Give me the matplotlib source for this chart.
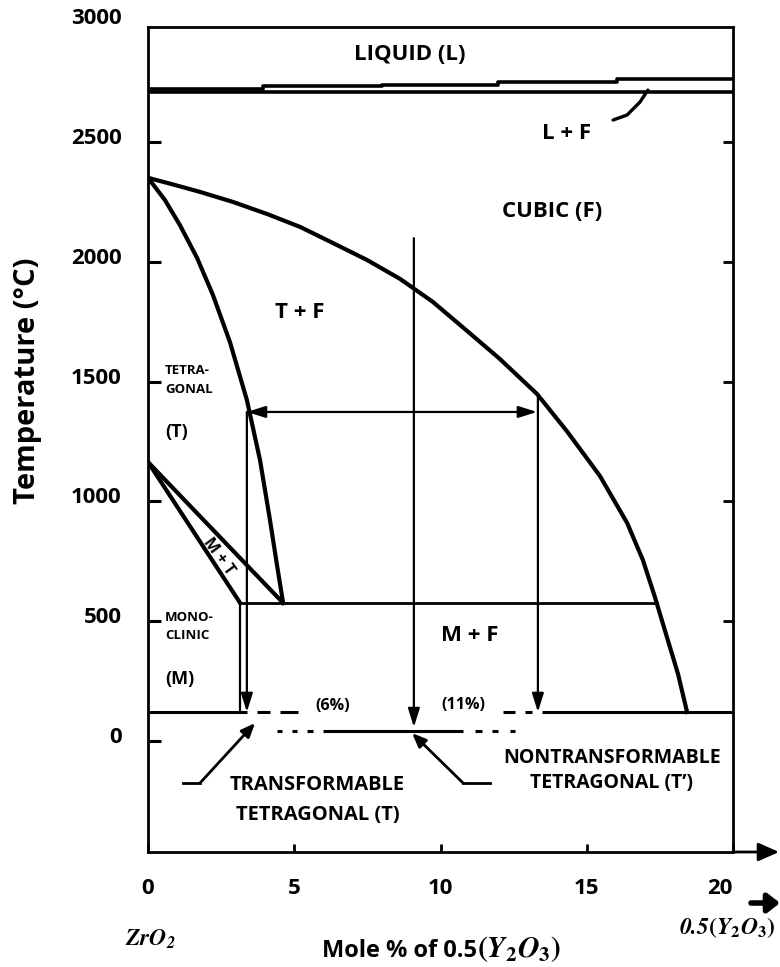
import matplotlib
matplotlib.use("Agg")
import matplotlib.pyplot as plt
from matplotlib.patches import FancyArrowPatch
from matplotlib.transforms import ScaledTranslation

plt.rcParams['font.family'] = ['Open Sans', 'DejaVu Sans']
plt.rcParams['font.weight'] = 'bold'
plt.rcParams['mathtext.fontset'] = 'stix'

# ---- axis ticks ----
x_ticks = [0, 5, 10, 15, 20]
x_tick_labels = ['0', '5', '10', '15', '20']
y_ticks = [0, 500, 1000, 1500, 2000, 2500, 3000]
y_tick_labels = ['0', '500', '1000', '1500', '2000', '2500', '3000']
y_ticks_right = [500, 1000, 1500, 2000, 2500]

# ---- phase boundaries (mol % 0.5 Y2O3, deg C) ----
# cubic (F) solvus
cubic_x = [0, 0.92, 1.78, 2.91, 4.07, 5.20, 6.32, 7.49, 8.62, 9.74, 10.91,
           12.03, 13.30, 14.32, 15.45, 16.38, 16.92, 17.33, 17.74, 18.12, 18.43]
cubic_y = [2350, 2320, 2291, 2249, 2199, 2145, 2078, 2007, 1928, 1832, 1711,
           1594, 1448, 1293, 1106, 910, 755, 601, 434, 280, 121]
# tetragonal / T + F boundary
tet_x = [0, 0.58, 1.09, 1.68, 2.22, 2.80, 3.38, 3.83, 4.17, 4.41, 4.62]
tet_y = [2350, 2257, 2153, 2015, 1861, 1665, 1423, 1172, 922, 734, 576]
# M + T lens
mt_upper_x = [0, 4.62]
mt_upper_y = [1164, 576]
mt_lower_x = [0, 3.15]
mt_lower_y = [1164, 576]
# eutectoid isotherm
eutectoid_T = 576
eutectoid_x = [3.15, 17.39]
# liquidus / solidus
solidus_T = 2708
liquidus_x = [0, 3.93, 8.0, 11.96, 16.03, 20]
liquidus_y = [2722, 2731, 2737, 2749, 2762, 2762]

# ---- low-temperature limits ----
rt_upper_T = 121
rt_upper_segments = [(0, 3.38), (3.73, 4.17), (4.51, 5.13),
                     (12.14, 12.55), (12.89, 13.13), (13.47, 20)]
rt_lower_T = 42
rt_lower_segments = [(4.41, 4.58), (4.92, 5.09), (5.44, 5.64), (5.98, 10.77),
                     (11.18, 11.42), (11.76, 11.97), (12.38, 12.55)]

# ---- cooling paths and tie line ----
path_6_x = 3.15
path_6_top = 576
path_6_bottom = 121
tie_T = 1373
tie_x = [3.38, 13.3]
drop_left_x = 3.38
drop_left_y = [1373, 121]
drop_mid_x = 9.09
drop_mid_y = [2098, 58]
drop_right_x = 13.33
drop_right_y = [1448, 121]

# ---- leader lines ----
leader_t_x = [1.2, 1.78, 3.66]
leader_t_y = [-175, -175, 75]
leader_tp_x = [11.69, 10.77, 9.03]
leader_tp_y = [-175, -175, 33]
leader_lf_x = [15.9, 16.38, 16.82, 17.09]
leader_lf_y = [2591, 2612, 2666, 2716]

fig = plt.figure(figsize=(7.8, 9.67), dpi=100)
W, H = 780, 967
ax = fig.add_axes([148 / W, 1 - 852 / H, 585 / W, (852 - 22) / H])
ax.set_xlim(0, 20)
ax.set_ylim(-463, 3000)

# frame
for s in ax.spines.values():
    s.set_linewidth(2.0)
ax.spines['top'].set_position(('data', 2980))
ax.spines['left'].set_bounds(-463, 2980)
ax.spines['right'].set_bounds(-463, 2980)

ax.set_xticks(x_ticks)
ax.set_xticklabels(x_tick_labels)
ax.set_yticks(y_ticks)
ax.set_yticklabels(y_tick_labels)
ax.tick_params(axis='y', direction='in', length=9, width=2.2, labelsize=16, pad=19)
ax.tick_params(axis='x', direction='in', length=6, width=2.0, labelsize=16, pad=19)
ax.yaxis.get_major_ticks()[-1].tick1line.set_visible(False)
off = ScaledTranslation(0, 6 / 100, fig.dpi_scale_trans)
for lab in ax.get_yticklabels():
    lab.set_transform(lab.get_transform() + off)
last_x = ax.get_xticklabels()[-1]
last_x.set_transform(last_x.get_transform() + ScaledTranslation(-13 / 100, 0, fig.dpi_scale_trans))

sec = ax.secondary_yaxis('right')
sec.set_yticks(y_ticks_right)
sec.tick_params(direction='in', length=7, width=2.0, labelright=False)
sec.spines['right'].set_visible(False)

# x axis arrow beyond the frame
ax.annotate('', xy=(779 / W, 1 - 852 / H), xycoords='figure fraction',
            xytext=(733 / W, 1 - 852 / H), textcoords='figure fraction',
            arrowprops=dict(arrowstyle='-|>,head_length=0.9,head_width=0.4',
                            lw=2.0, color='black', mutation_scale=14,
                            shrinkA=0, shrinkB=0))

k = 'black'
# liquidus / solidus
ax.plot([0, 20], [solidus_T, solidus_T], color=k, lw=2.6, solid_capstyle='butt')
ax.plot(liquidus_x, liquidus_y, color=k, lw=2.6, drawstyle='steps-post')

# phase boundaries
ax.plot(cubic_x, cubic_y, color=k, lw=3.0, solid_joinstyle='round')
ax.plot(tet_x, tet_y, color=k, lw=3.0, solid_joinstyle='round')
ax.plot(mt_upper_x, mt_upper_y, color=k, lw=3.0)
ax.plot(mt_lower_x, mt_lower_y, color=k, lw=3.0)
ax.plot(eutectoid_x, [eutectoid_T, eutectoid_T], color=k, lw=2.0)

for a, b in rt_upper_segments:
    ax.plot([a, b], [rt_upper_T, rt_upper_T], color=k, lw=2.2, solid_capstyle='butt')
for a, b in rt_lower_segments:
    ax.plot([a, b], [rt_lower_T, rt_lower_T], color=k, lw=2.2, solid_capstyle='butt')

ax.plot([path_6_x, path_6_x], [path_6_top, path_6_bottom], color=k, lw=1.6)

arrow_kw = dict(arrowstyle='-|>,head_length=0.7,head_width=0.22', lw=1.6,
                color=k, mutation_scale=16, shrinkA=0, shrinkB=0)
ax.annotate('', xy=(drop_left_x, drop_left_y[1]), xytext=(drop_left_x, drop_left_y[0]),
            arrowprops=arrow_kw)
ax.annotate('', xy=(drop_mid_x, drop_mid_y[1]), xytext=(drop_mid_x, drop_mid_y[0]),
            arrowprops=arrow_kw)
ax.annotate('', xy=(drop_right_x, drop_right_y[1]), xytext=(drop_right_x, drop_right_y[0]),
            arrowprops=arrow_kw)
ax.annotate('', xy=(tie_x[1], tie_T), xytext=(tie_x[0], tie_T),
            arrowprops=dict(arrowstyle='<|-|>,head_length=0.7,head_width=0.22',
                            lw=1.6, color=k, mutation_scale=16, shrinkA=0, shrinkB=0))

# leader lines
lead_kw = dict(arrowstyle='-|>,head_length=0.6,head_width=0.25', lw=2.0,
               color=k, mutation_scale=14, shrinkA=0, shrinkB=0)
ax.plot(leader_t_x[:2], leader_t_y[:2], color=k, lw=2.0)
ax.annotate('', xy=(leader_t_x[2], leader_t_y[2]), xytext=(leader_t_x[1], leader_t_y[1]),
            arrowprops=lead_kw)
ax.plot(leader_tp_x[:2], leader_tp_y[:2], color=k, lw=2.0)
ax.annotate('', xy=(leader_tp_x[2], leader_tp_y[2]), xytext=(leader_tp_x[1], leader_tp_y[1]),
            arrowprops=lead_kw)
ax.plot(leader_lf_x, leader_lf_y, color=k, lw=2.4, solid_capstyle='round')

# region labels
big = dict(fontsize=16, fontweight='bold', ha='center', va='center')
ax.text(8.96, 2866, 'LIQUID (L)', **big)
ax.text(14.32, 2536, 'L + F', **big)
ax.text(13.81, 2211, 'CUBIC (F)', **big)
ax.text(5.2, 1790, 'T + F', **big)
ax.text(11.01, 442, 'M + F', **big)

small = dict(fontsize=9.5, fontweight='bold', ha='left', va='center')
ax.text(0.58, 1544, 'TETRA-', **small)
ax.text(0.58, 1468, 'GONAL', **small)
ax.text(0.58, 517, 'MONO-', **small)
ax.text(0.58, 442, 'CLINIC', **small)

mid = dict(fontsize=13, fontweight='bold', ha='left', va='center')
ax.text(0.58, 1289, '(T)', **mid)
ax.text(0.58, 259, '(M)', **mid)
ax.text(2.42, 770, 'M + T', fontsize=11.5, fontweight='bold', ha='center',
        va='center', rotation=-54)

pct = dict(fontsize=11.5, fontweight='bold', ha='center', va='center')
ax.text(6.32, 146, '(6%)', **pct)
ax.text(10.77, 150, '(11%)', **pct)

ax.text(5.8, -184, 'TRANSFORMABLE', fontsize=14.5, fontweight='bold', ha='center', va='center')
ax.text(5.8, -309, 'TETRAGONAL (T)', fontsize=14.5, fontweight='bold', ha='center', va='center')
ax.text(15.86, -71, 'NONTRANSFORMABLE', fontsize=14, fontweight='bold', ha='center', va='center')
ax.text(15.86, -175, 'TETRAGONAL (T’)', fontsize=14, fontweight='bold', ha='center', va='center')

# axis titles
ax.set_ylabel('Temperature (°C)', fontsize=21, fontweight='bold', va='center')
ax.yaxis.set_label_coords((28 - 148) / 585, (852 - 381) / 830)
ax.set_xlabel('Mole % of 0.5', fontsize=17, fontweight='bold', ha='right', va='baseline')
ax.xaxis.set_label_coords((477 - 148) / 585, (852 - 957) / 830)
fig.text(477 / W, 1 - 957 / H, r'$(Y_2O_3)$', fontsize=21.5, ha='left', va='baseline')

fig.text(150 / W, 1 - 940 / H, r'$\mathbfit{ZrO}_{\mathbfit{2}}$', fontsize=17,
         ha='center', va='center')
fig.text(727 / W, 1 - 928 / H, r'$\mathbfit{0.5}(Y_2O_3)$', fontsize=17,
         ha='center', va='center')
fig.add_artist(FancyArrowPatch(
    (751 / W, 1 - 903 / H), (780 / W, 1 - 903 / H), transform=fig.transFigure,
    arrowstyle='-|>,head_length=0.45,head_width=0.35', lw=4, color='black',
    mutation_scale=16, shrinkA=0, shrinkB=0))

fig.savefig('out.png', dpi=100)
